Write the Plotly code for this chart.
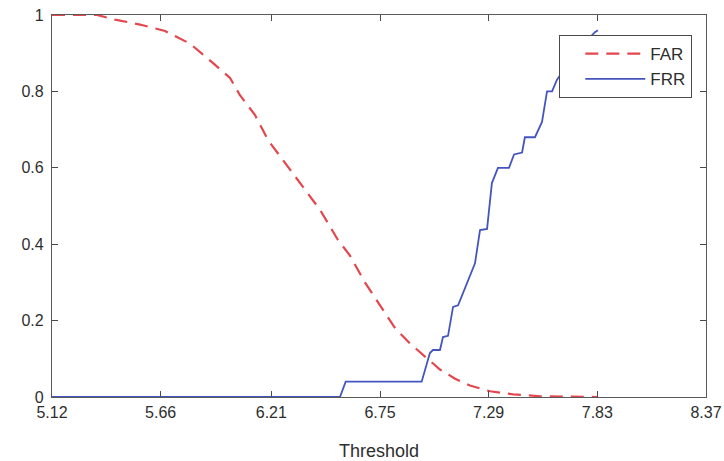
import plotly.graph_objects as go

# FAR (dashed red) curve
far_x = [5.12, 5.344, 5.433, 5.557, 5.682, 5.806, 5.925, 6.005, 6.054, 6.129,
         6.193, 6.288, 6.377, 6.452, 6.541, 6.601, 6.675, 6.750, 6.825, 6.899,
         6.974, 7.048, 7.123, 7.197, 7.297, 7.412, 7.545, 7.694, 7.83]
far_y = [1.0, 1.0, 0.988, 0.975, 0.958, 0.925, 0.872, 0.835, 0.79, 0.738,
         0.673, 0.607, 0.542, 0.49, 0.411, 0.37, 0.30, 0.24, 0.18, 0.14,
         0.105, 0.072, 0.048, 0.03, 0.015, 0.007, 0.002, 0.001, 0.0]

# FRR (solid blue) curve
frr_x = [5.12, 6.551, 6.5795, 6.957, 6.998, 7.013, 7.048, 7.063, 7.088, 7.113,
         7.138, 7.182, 7.222, 7.247, 7.282, 7.306, 7.336, 7.391, 7.416, 7.456,
         7.470, 7.520, 7.555, 7.580, 7.605, 7.629, 7.719, 7.818, 7.833]
frr_y = [0.0, 0.0, 0.04, 0.04, 0.115, 0.123, 0.123, 0.157, 0.16, 0.236,
         0.24, 0.30, 0.35, 0.437, 0.44, 0.56, 0.60, 0.60, 0.635, 0.64,
         0.68, 0.68, 0.72, 0.80, 0.80, 0.83, 0.90, 0.955, 0.96]

x_tick_labels = ["5.12", "5.66", "6.21", "6.75", "7.29", "7.83", "8.37"]
y_tick_values = [0, 0.2, 0.4, 0.6, 0.8, 1]

FONT = "Liberation Sans, Arial"
TXT = "#2e2e2e"

fig = go.Figure()
fig.add_trace(go.Scatter(x=far_x, y=far_y, mode="lines", name="FAR",
                         line=dict(color="#e3474d", width=2.2, dash="13px,8px")))
fig.add_trace(go.Scatter(x=frr_x, y=frr_y, mode="lines", name="FRR",
                         line=dict(color="#4456be", width=1.8)))

axis_common = dict(showline=True, linecolor="#5a5a5a", linewidth=1.3,
                   mirror="ticks", ticks="inside", ticklen=6, tickwidth=1.2,
                   tickcolor="#4a4a4a", showgrid=False, zeroline=False,
                   automargin=False, ticklabeloverflow="allow",
                   tickfont=dict(family=FONT, size=16, color=TXT))

fig.update_layout(
    width=724, height=461,
    margin=dict(l=52, r=18, t=15, b=64),
    paper_bgcolor="white", plot_bgcolor="white",
    showlegend=True,
    legend=dict(x=0.9786, y=0.948, xanchor="right", yanchor="top",
                bgcolor="white", bordercolor="#4a4a4a", borderwidth=1.3,
                font=dict(family=FONT, size=17, color=TXT),
                indentation=20, itemwidth=60),
    xaxis=dict(range=[5.12, 8.37], tickmode="array",
               tickvals=[float(t) for t in x_tick_labels], ticktext=x_tick_labels,
               ticklabelstandoff=1,
               title=dict(text="Threshold", standoff=26,
                          font=dict(family=FONT, size=18, color=TXT)),
               **axis_common),
    yaxis=dict(range=[0, 1], tickmode="array", tickvals=y_tick_values,
               ticklabelstandoff=4, **axis_common),
)

# remove the browser's default 8px body margin so the figure fills the window
fig.write_html("out.html", config={"displayModeBar": False},
               post_script="document.body.style.margin='0';")
